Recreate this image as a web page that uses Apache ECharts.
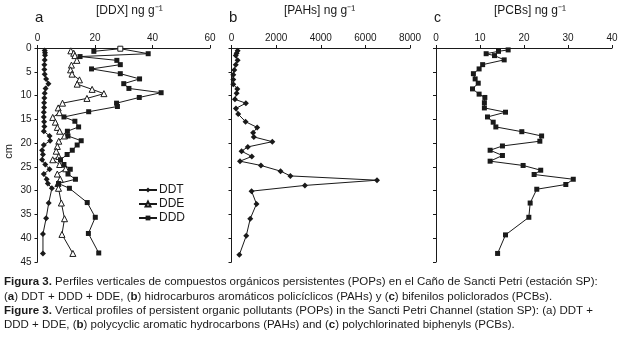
<!DOCTYPE html>
<html>
<head>
<meta charset="utf-8">
<script src="https://cdn.jsdelivr.net/npm/echarts@6/dist/echarts.min.js"></script>
<style>
  html, body { margin: 0; padding: 0; background: #fff; }
  #chart { width: 623px; height: 342px; }
</style>
</head>
<body>
<div id="chart"></div>
<script>
// depth (cm) and concentration arrays
const ddtDepth = [0.5, 1, 1.5, 2.5, 3.5, 4.5, 5.5, 6.5, 7.5, 8.5, 9.5, 10.5, 11.5, 12.5, 13.5, 14.5, 15.5, 16.5, 17.5, 18.5, 19.5, 20.4, 21.5, 22.4, 23.5, 24.5, 25.5, 26.5, 27.6, 28.5, 29.5, 32.6, 35.8, 39.1, 43.2];
const ddt = [2.5, 2.6, 2.6, 2.5, 2.4, 2.4, 2.5, 3, 3.8, 2.8, 2.5, 2.4, 2.3, 2.3, 2.2, 2.2, 2.3, 2.4, 2.2, 4.2, 4.4, 2.2, 1.6, 1.9, 1.6, 2.7, 4.2, 2.2, 3.2, 3.6, 5, 3.9, 3, 1.9, 1.9];

const ddeDepth = [0.6, 1.1, 1.6, 2.6, 3.6, 4.6, 5.5, 6.7, 7.6, 8.7, 9.6, 10.6, 11.6, 12.6, 13.6, 14.6, 15.6, 16.7, 17.5, 18.5, 19.6, 20.7, 21.7, 22.8, 23.5, 24.5, 25.4, 26.5, 27.6, 28.5, 29.5, 32.6, 35.9, 39.2, 43.2];
const dde = [11.6, 12.6, 13, 13.7, 11.8, 11.5, 12, 14.6, 13.8, 19, 23.1, 17.2, 8.7, 7.2, 7.6, 5.3, 6.2, 6.9, 7.7, 9.4, 7.4, 6.9, 6.5, 7.4, 5.3, 7.7, 9.8, 6.9, 7.9, 7.1, 7.3, 8.3, 9.4, 8.5, 12.3];

const dddDepth = [0.7, 0.15, 1.2, 1.8, 2.6, 3.5, 4.4, 5.4, 6.5, 7.5, 8.5, 9.4, 10.4, 11.6, 12.3, 13.4, 14.5, 15.4, 16.6, 17.5, 18.5, 19.5, 20.4, 21.5, 22.4, 23.5, 24.5, 25.5, 26.5, 27.6, 28.5, 29.5, 32.5, 35.6, 39, 43.1];
const ddd = [19.6, 28.8, 38.5, 14.8, 27.6, 28.8, 18.8, 28.8, 35.5, 30, 31.8, 43, 35.4, 27.5, 27.8, 17.8, 9.2, 13, 14.3, 10.4, 10.6, 15.2, 13.8, 12.1, 10.3, 8, 9.2, 11.4, 10.6, 13.2, 7.3, 11.1, 17.3, 20.1, 17.7, 21.3];
const dddOpenIdx = 1; // open square at the top

const pahDepth = [0.6, 1.1, 1.6, 2.6, 3.5, 4.6, 5.6, 6.6, 7.6, 8.6, 9.5, 10.8, 11.6, 12.7, 13.9, 15.5, 16.7, 17.8, 18.7, 19.7, 20.8, 21.7, 22.8, 23.8, 24.7, 25.9, 26.9, 27.8, 28.9, 30.1, 32.8, 35.9, 39.5, 43.5];
const pah = [275, 230, 190, 275, 190, 125, 80, 80, 80, 260, 230, 155, 645, 200, 300, 630, 1150, 970, 1000, 1830, 730, 450, 910, 380, 1320, 2200, 2640, 6520, 3290, 900, 1120, 840, 660, 350];

const pcbDepth = [0.4, 0.7, 1.2, 1.6, 2.5, 3.5, 4.4, 5.4, 6.5, 7.4, 8.6, 9.7, 10.4, 11.5, 12.6, 13.5, 14.5, 15.6, 16.6, 17.6, 18.5, 19.6, 20.6, 21.5, 22.6, 23.8, 24.7, 25.7, 26.6, 27.6, 28.7, 29.7, 32.6, 35.6, 39.3, 43.2];
const pcb = [16.4, 14.2, 11.4, 13.3, 15.5, 10.6, 9.8, 8.5, 8.9, 9.6, 8.3, 9.8, 11.1, 11, 11, 15.8, 11.7, 13, 13.6, 19.5, 24, 23.6, 15.1, 12.3, 15.1, 12.3, 19.8, 23.8, 22.3, 31.2, 29.5, 22.9, 21.4, 21.1, 15.8, 14];

const pairs = (vals, depths) => vals.map((v, i) => [v, depths[i]]);

const font = 'Liberation Sans, Arial, sans-serif';
const ink = '#1a1a1a';

const chart = echarts.init(document.getElementById('chart'), null, { renderer: 'canvas' });

function xAxisFor(idx, max, interval) {
    return {
        gridIndex: idx,
        type: 'value',
        position: 'top',
        min: 0,
        max: max,
        interval: interval,
        axisLine: { show: true, onZero: false, lineStyle: { color: ink, width: 1 } },
        axisTick: { show: true, inside: false, length: 3, lineStyle: { color: ink } },
        axisLabel: { color: ink, fontSize: 10, fontFamily: font, margin: 5, formatter: v => String(v) },
        splitLine: { show: false },
    };
}
function yAxisFor(idx, showLabels) {
    return {
        gridIndex: idx,
        type: 'value',
        inverse: true,
        min: 0,
        max: 45,
        interval: 5,
        axisLine: { show: true, onZero: false, lineStyle: { color: ink, width: 1 } },
        axisTick: { show: true, length: 3, lineStyle: { color: ink } },
        axisLabel: { show: showLabels, color: ink, fontSize: 10, fontFamily: font, margin: 6 },
        splitLine: { show: false },
    };
}

const lineStyle = { color: ink, width: 1 };

const dddData = pairs(ddd, dddDepth).map((p, i) => i === dddOpenIdx
    ? { value: p, itemStyle: { color: '#fff', borderColor: ink, borderWidth: 1 } }
    : p);

chart.setOption({
    animation: false,
    backgroundColor: '#fff',
    textStyle: { fontFamily: font },
    grid: [
        { left: 37.5, top: 48, width: 172.5, height: 214 },
        { left: 231.5, top: 48, width: 178.5, height: 214 },
        { left: 436, top: 48, width: 176, height: 214 },
    ],
    xAxis: [
        xAxisFor(0, 60, 20),
        xAxisFor(1, 8000, 2000),
        xAxisFor(2, 40, 10),
    ],
    yAxis: [
        yAxisFor(0, true),
        yAxisFor(1, false),
        yAxisFor(2, false),
    ],
    legend: {
        data: ['DDT', 'DDE', 'DDD'],
        orient: 'vertical',
        left: 133,
        top: 179,
        itemWidth: 18,
        itemHeight: 6,
        itemGap: 2,
        textStyle: { color: ink, fontSize: 12, fontFamily: font, padding: [0, 0, 0, -3] },
    },
    series: [
        {
            name: 'DDT', type: 'line', xAxisIndex: 0, yAxisIndex: 0,
            data: pairs(ddt, ddtDepth),
            symbol: 'diamond', symbolSize: 6,
            itemStyle: { color: ink }, lineStyle: lineStyle,
        },
        {
            name: 'DDE', type: 'line', xAxisIndex: 0, yAxisIndex: 0,
            data: pairs(dde, ddeDepth),
            symbol: 'triangle', symbolSize: 6,
            itemStyle: { color: '#fff', borderColor: ink, borderWidth: 1 },
            lineStyle: lineStyle,
        },
        {
            name: 'DDD', type: 'line', xAxisIndex: 0, yAxisIndex: 0,
            data: dddData,
            symbol: 'rect', symbolSize: 5,
            itemStyle: { color: ink }, lineStyle: lineStyle,
        },
        {
            name: 'PAHs', type: 'line', xAxisIndex: 1, yAxisIndex: 1,
            data: pairs(pah, pahDepth),
            symbol: 'diamond', symbolSize: 6,
            itemStyle: { color: ink }, lineStyle: lineStyle,
        },
        {
            name: 'PCBs', type: 'line', xAxisIndex: 2, yAxisIndex: 2,
            data: pairs(pcb, pcbDepth),
            symbol: 'rect', symbolSize: 5,
            itemStyle: { color: ink }, lineStyle: lineStyle,
        },
    ],
    graphic: [
        // panel letters and axis titles
        { type: 'text', left: 35, top: 10, style: { text: 'a', font: '15px ' + font, fill: ink } },
        { type: 'text', left: 229, top: 10, style: { text: 'b', font: '15px ' + font, fill: ink } },
        { type: 'text', left: 434, top: 11, style: { text: 'c', font: '14px ' + font, fill: ink } },
        { type: 'text', left: 96, top: 5, style: { text: '[DDX] ng g⁻¹', font: '12px ' + font, fill: ink } },
        { type: 'text', left: 284, top: 5, style: { text: '[PAHs] ng g⁻¹', font: '12px ' + font, fill: ink } },
        { type: 'text', left: 494, top: 5, style: { text: '[PCBs] ng g⁻¹', font: '12px ' + font, fill: ink } },
        { type: 'text', left: 3, top: 144, rotation: Math.PI / 2, style: { text: 'cm', font: '11px ' + font, fill: ink } },
        // caption
        {
            type: 'text', left: 4, top: 275,
            style: {
                fill: ink, font: '11.5px ' + font, lineHeight: 14.3,
                text: '{b|Figura 3.} Perfiles verticales de compuestos orgánicos persistentes (POPs) en el Caño de Sancti Petri (estación SP):\n' +
                      '({b|a}) DDT + DDD + DDE, ({b|b}) hidrocarburos aromáticos policíclicos (PAHs) y ({b|c}) bifenilos policlorados (PCBs).\n' +
                      '{b|Figure 3.} Vertical profiles of persistent organic pollutants (POPs) in the Sancti Petri Channel (station SP): (a) DDT +\n' +
                      'DDD + DDE, ({b|b}) polycyclic aromatic hydrocarbons (PAHs) and ({b|c}) polychlorinated biphenyls (PCBs).',
                rich: {
                    b: { fontWeight: 'bold', fontSize: 11.5, fontFamily: font, fill: ink },
                },
            },
        },
    ],
});
</script>
</body>
</html>
